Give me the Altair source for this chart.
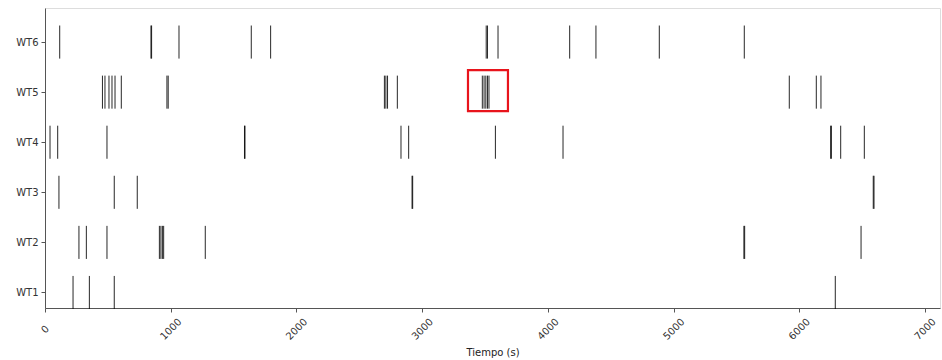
import altair as alt
import pandas as pd

rows = ["WT1", "WT2", "WT3", "WT4", "WT5", "WT6"]
events = {
    "WT1": [223, 353, 551, 6287],
    "WT2": [270, 329, 493, 910, 922, 934, 944, 1275, 5560, 5566, 6492],
    "WT3": [111, 551, 734, 2920, 2925, 6589, 6595],
    "WT4": [40, 101, 493, 1587, 1591, 2832, 2893, 3583, 4121, 6250, 6256, 6330, 6518],
    "WT5": [457, 477, 509, 533, 557, 607, 970, 980, 2700, 2712, 2725, 2803,
            3479, 3493, 3507, 3520, 3532, 5921, 6136, 6173],
    "WT6": [117, 843, 848, 1066, 1641, 1795, 3510, 3520, 3604, 4174, 4383, 4887, 5563],
}
highlight_x = [3365, 3683]
highlight_y = [4.62, 5.44]

recs = []
for i, r in enumerate(rows):
    for t in events[r]:
        recs.append({"row": r, "pos": i + 1, "t": t,
                     "lo": i + 1 - 0.33, "hi": i + 1 + 0.33})
df = pd.DataFrame(recs)
box = pd.DataFrame({"x": [highlight_x[0]], "x2": [highlight_x[1]],
                    "y": [highlight_y[0]], "y2": [highlight_y[1]]})

label_expr = "[" + ",".join(f"'{r}'" for r in rows) + "][datum.value - 1]"

xscale = alt.Scale(domain=[0, 7120], nice=False, zero=False)
yscale = alt.Scale(domain=[0.69, 6.68], nice=False, zero=False)

font = "DejaVu Sans"

lines = alt.Chart(df).mark_rule(color="black", strokeWidth=1, opacity=0.85).encode(
    x=alt.X("t:Q", scale=xscale,
            axis=alt.Axis(title="Tiempo (s)", values=list(range(0, 8000, 1000)),
                          format="d", labelAngle=-45, labelAlign="center",
                          labelBaseline="middle", labelPadding=17,
                          labelFont=font, labelFontSize=10, labelColor="#333",
                          titleFont=font, titleFontSize=10, titleFontWeight="normal",
                          titleColor="#222", titlePadding=6,
                          grid=False, tickColor="#555", domainColor="#555",
                          tickSize=4, labelOverlap=False, labelFlush=False)),
    y=alt.Y("lo:Q", scale=yscale,
            axis=alt.Axis(title=None, values=list(range(1, len(rows) + 1)),
                          labelExpr=label_expr, labelFont=font, labelFontSize=10,
                          labelColor="#333", grid=False, tickColor="#555",
                          domainColor="#555", tickSize=4, labelPadding=3)),
    y2="hi:Q",
)

rect = alt.Chart(box).mark_rect(fill=None, stroke="#e8141c", strokeWidth=2.2).encode(
    x=alt.X("x:Q", scale=xscale), x2="x2:Q",
    y=alt.Y("y:Q", scale=yscale), y2="y2:Q",
)

chart = (lines + rect).properties(
    width=895, height=300,
    padding={"left": 45, "top": 8, "right": 2, "bottom": 52},
    autosize=alt.AutoSizeParams(type="none"),
).configure_view(stroke="#555", strokeWidth=1).configure(background="white")

chart.save("out.html", embed_options={"renderer": "svg", "actions": False})
